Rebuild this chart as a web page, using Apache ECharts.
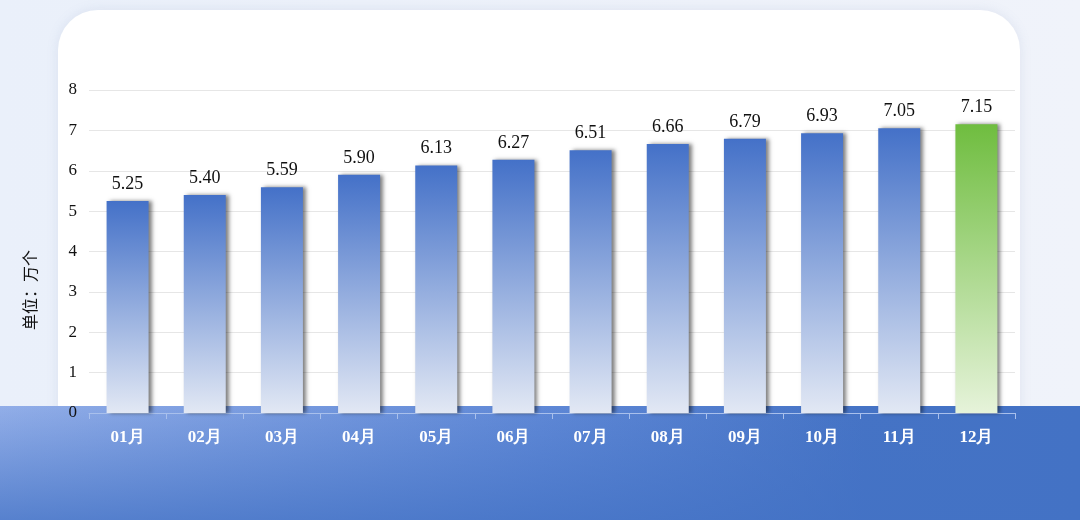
<!DOCTYPE html>
<html><head><meta charset="utf-8">
<script src="https://cdn.jsdelivr.net/npm/echarts@6/dist/echarts.min.js"></script>
<style>html,body{margin:0;padding:0;background:#eef2fa}#c{width:1080px;height:520px}</style>
</head><body><div id="c"></div>
<script>
const categories = ['01月','02月','03月','04月','05月','06月','07月','08月','09月','10月','11月','12月'];
const values = [5.25, 5.40, 5.59, 5.90, 6.13, 6.27, 6.51, 6.66, 6.79, 6.93, 7.05, 7.15];
const unitLabel = '单位：万个';

const blueGrad = new echarts.graphic.LinearGradient(0,0,0,1,[{offset:0,color:'#4471c8'},{offset:1,color:'#e2e8f4'}]);
const greenGrad = new echarts.graphic.LinearGradient(0,0,0,1,[{offset:0,color:'#6fbd3f'},{offset:1,color:'#e6f3da'}]);

const chart = echarts.init(document.getElementById('c'));
chart.setOption({
  animation:false,
  backgroundColor: new echarts.graphic.LinearGradient(0,0,1,0,[{offset:0,color:'#eaf0fa'},{offset:1,color:'#f0f3fa'}]),
  graphic:[
    {type:'rect', z:-4, shape:{x:58,y:10,width:962,height:520,r:40}, style:{fill:'#ffffff', shadowColor:'rgba(120,140,180,0.15)', shadowBlur:12}},
    {type:'rect', z:-3, shape:{x:0,y:406,width:1080,height:114},
      style:{fill:new echarts.graphic.LinearGradient(0,0,1,0,[{offset:0,color:'#92aee8'},{offset:0.5,color:'#5f88d6'},{offset:0.8,color:'#4573c5'},{offset:1,color:'#4372c5'}])}},
    {type:'rect', z:-2, shape:{x:0,y:406,width:1080,height:114},
      style:{fill:new echarts.graphic.LinearGradient(0,0,0,1,[{offset:0,color:'rgba(67,114,197,0)'},{offset:1,color:'rgba(67,114,197,0.75)'}])}},
    {type:'text', z:5, x:30, y:290, rotation:Math.PI/2,
      style:{text:unitLabel, fill:'#111', font:'16px "Noto Sans CJK SC"', align:'center', verticalAlign:'middle'}}
  ],
  grid:{left:89, right:65, top:90, bottom:107},
  xAxis:{
    type:'category', data:categories,
    axisLine:{lineStyle:{color:'#a9c0ec', width:1}},
    axisTick:{show:true, length:6, lineStyle:{color:'#a9c0ec'}},
    axisLabel:{color:'#ffffff', fontFamily:'Liberation Serif', fontWeight:'bold', fontSize:17, margin:16}
  },
  yAxis:{
    type:'value', min:0, max:8, interval:1,
    axisLine:{show:false}, axisTick:{show:false},
    axisLabel:{color:'#111', fontFamily:'Liberation Serif', fontSize:17, margin:12},
    splitLine:{lineStyle:{color:'#e6e6e6'}}
  },
  series:[{
    type:'bar', barWidth:42,
    data: values.map((v,i)=>({value:v, itemStyle:{color: i===values.length-1 ? greenGrad : blueGrad}})),
    itemStyle:{shadowColor:'rgba(0,0,0,0.5)', shadowOffsetX:3, shadowOffsetY:0, shadowBlur:4},
    label:{show:true, position:'top', distance:8, color:'#111', fontFamily:'Liberation Serif', fontSize:18,
      formatter:p=>p.value.toFixed(2)}
  }]
});
</script></body></html>
